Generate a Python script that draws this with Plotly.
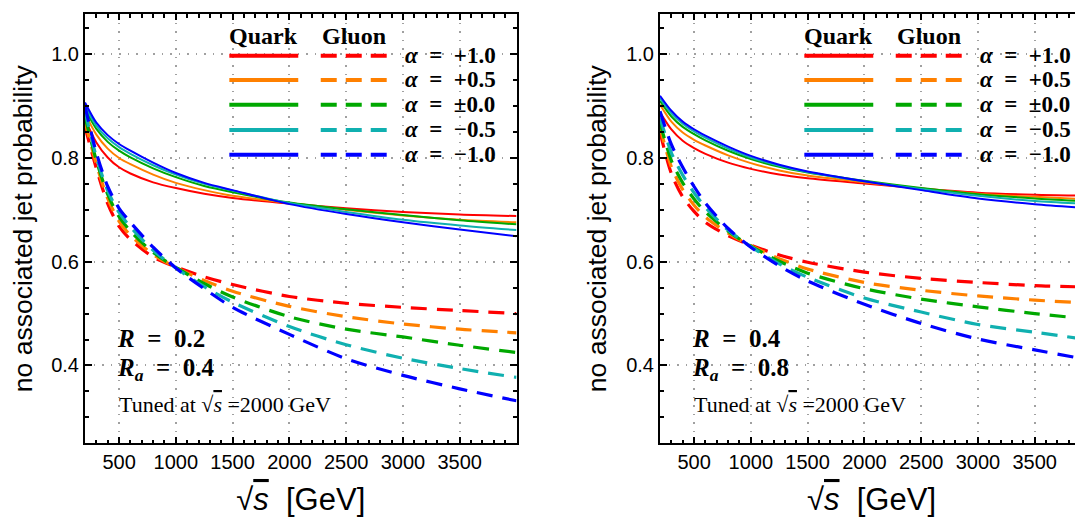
import plotly.graph_objects as go

# ---------------- data ----------------
energy = [200, 300, 400, 500, 600, 800, 1000, 1250, 1500, 2000, 2500, 3000, 3500, 4000]

alpha_labels = ["+1.0", "+0.5", "\u00b10.0", "\u22120.5", "\u22121.0"]
colors = ["#ff0000", "#ff8000", "#00a800", "#10b0b0", "#0000ff"]

# Panel 1: R = 0.2, Ra = 0.4  (quark = solid, gluon = dashed)
quark_r02_p10 = [0.875, 0.830, 0.801, 0.782, 0.770, 0.753, 0.742, 0.731, 0.723, 0.712, 0.703, 0.696, 0.691, 0.688]
quark_r02_p05 = [0.886, 0.845, 0.818, 0.800, 0.788, 0.768, 0.752, 0.738, 0.727, 0.713, 0.700, 0.689, 0.681, 0.676]
quark_r02_p00 = [0.894, 0.856, 0.831, 0.814, 0.801, 0.780, 0.763, 0.746, 0.734, 0.714, 0.701, 0.690, 0.680, 0.672]
quark_r02_m05 = [0.900, 0.862, 0.838, 0.821, 0.808, 0.786, 0.768, 0.750, 0.737, 0.713, 0.696, 0.681, 0.670, 0.661]
quark_r02_m10 = [0.907, 0.868, 0.844, 0.827, 0.814, 0.791, 0.771, 0.752, 0.738, 0.711, 0.692, 0.676, 0.662, 0.649]

gluon_r02_p10 = [0.860, 0.780, 0.712, 0.668, 0.643, 0.609, 0.590, 0.571, 0.556, 0.533, 0.520, 0.512, 0.506, 0.500]
gluon_r02_p05 = [0.870, 0.788, 0.722, 0.678, 0.651, 0.614, 0.589, 0.564, 0.543, 0.514, 0.494, 0.480, 0.470, 0.463]
gluon_r02_p00 = [0.880, 0.795, 0.730, 0.687, 0.659, 0.618, 0.589, 0.558, 0.532, 0.494, 0.470, 0.455, 0.439, 0.425]
gluon_r02_m05 = [0.890, 0.802, 0.737, 0.695, 0.667, 0.622, 0.588, 0.552, 0.522, 0.475, 0.440, 0.414, 0.394, 0.377]
gluon_r02_m10 = [0.900, 0.810, 0.745, 0.703, 0.676, 0.628, 0.588, 0.548, 0.512, 0.460, 0.413, 0.381, 0.355, 0.332]

# Panel 2: R = 0.4, Ra = 0.8
quark_r04_p10 = [0.888, 0.855, 0.833, 0.819, 0.808, 0.791, 0.779, 0.768, 0.761, 0.751, 0.741, 0.733, 0.729, 0.727]
quark_r04_p05 = [0.903, 0.870, 0.849, 0.835, 0.824, 0.805, 0.790, 0.776, 0.766, 0.753, 0.741, 0.731, 0.725, 0.720]
quark_r04_p00 = [0.910, 0.880, 0.860, 0.846, 0.834, 0.814, 0.798, 0.783, 0.772, 0.756, 0.742, 0.730, 0.722, 0.716]
quark_r04_m05 = [0.915, 0.886, 0.866, 0.851, 0.839, 0.818, 0.801, 0.785, 0.773, 0.755, 0.740, 0.727, 0.717, 0.711]
quark_r04_m10 = [0.920, 0.891, 0.870, 0.855, 0.843, 0.822, 0.804, 0.787, 0.774, 0.755, 0.738, 0.722, 0.711, 0.703]

gluon_r04_p10 = [0.850, 0.770, 0.725, 0.697, 0.676, 0.650, 0.632, 0.613, 0.599, 0.580, 0.568, 0.560, 0.554, 0.551]
gluon_r04_p05 = [0.860, 0.783, 0.739, 0.709, 0.686, 0.655, 0.631, 0.606, 0.586, 0.560, 0.545, 0.534, 0.526, 0.520]
gluon_r04_p00 = [0.868, 0.795, 0.752, 0.721, 0.696, 0.659, 0.630, 0.601, 0.578, 0.548, 0.528, 0.513, 0.500, 0.489]
gluon_r04_m05 = [0.878, 0.810, 0.767, 0.733, 0.705, 0.661, 0.629, 0.596, 0.570, 0.530, 0.503, 0.479, 0.464, 0.449]
gluon_r04_m10 = [0.890, 0.826, 0.782, 0.745, 0.713, 0.664, 0.628, 0.592, 0.563, 0.518, 0.481, 0.451, 0.430, 0.410]

x_tick_vals = [500, 1000, 1500, 2000, 2500, 3000, 3500]
y_tick_vals = [0.4, 0.6, 0.8, 1.0]
y_tick_text = ["0.4", "0.6", "0.8", "1.0"]

panels = [
    dict(quark=[quark_r02_p10, quark_r02_p05, quark_r02_p00, quark_r02_m05, quark_r02_m10],
         gluon=[gluon_r02_p10, gluon_r02_p05, gluon_r02_p00, gluon_r02_m05, gluon_r02_m10],
         R="0.2", Ra="0.4"),
    dict(quark=[quark_r04_p10, quark_r04_p05, quark_r04_p00, quark_r04_m05, quark_r04_m10],
         gluon=[gluon_r04_p10, gluon_r04_p05, gluon_r04_p00, gluon_r04_m05, gluon_r04_m10],
         R="0.4", Ra="0.8"),
]

# ---------------- figure ----------------
# page body has an 8px margin, so the figure is 8px smaller than the window
W, H = 1075, 509
OFF = 8
SANS = "Liberation Sans, Arial, sans-serif"
SERIF = "Liberation Serif, Times New Roman, serif"
NB = "\u00a0"
SQRT_S = "\u221a<span style='text-decoration:overline'><i>s</i></span>"

fig = go.Figure()

axis_suffix = ["", "2"]
for p, panel in enumerate(panels):
    xa = "x" + axis_suffix[p]
    ya = "y" + axis_suffix[p]
    for i in range(5):
        fig.add_trace(go.Scatter(
            x=energy, y=panel["quark"][i], mode="lines",
            line=dict(color=colors[i], width=2, shape="spline", smoothing=0.8),
            xaxis=xa, yaxis=ya, showlegend=False, hoverinfo="skip"))
    for i in range(5):
        fig.add_trace(go.Scatter(
            x=energy, y=panel["gluon"][i], mode="lines",
            line=dict(color=colors[i], width=3.2, dash="16px,10px", shape="spline", smoothing=0.8),
            xaxis=xa, yaxis=ya, showlegend=False, hoverinfo="skip"))

# legend block (drawn in data units, same for both panels)
LEG_SOLID = (1471, 2078)
LEG_DASH = (2276, 2857)
LEG_LABEL_X = 3000
LEG_ROWS = [0.997, 0.9505, 0.9025, 0.854, 0.806]
LEG_HEAD_Y = 1.036

shapes = []
annotations = []
for p, panel in enumerate(panels):
    xa = "x" + axis_suffix[p]
    ya = "y" + axis_suffix[p]
    for i in range(5):
        shapes.append(dict(type="line", xref=xa, yref=ya,
                           x0=LEG_SOLID[0], x1=LEG_SOLID[1], y0=LEG_ROWS[i], y1=LEG_ROWS[i],
                           line=dict(color=colors[i], width=4)))
        shapes.append(dict(type="line", xref=xa, yref=ya,
                           x0=LEG_DASH[0], x1=LEG_DASH[1], y0=LEG_ROWS[i], y1=LEG_ROWS[i],
                           line=dict(color=colors[i], width=4, dash="16px,9px")))
        annotations.append(dict(xref=xa, yref=ya, x=LEG_LABEL_X, y=LEG_ROWS[i],
                                xanchor="left", yanchor="middle", showarrow=False,
                                text="<b><i>\u03b1</i>" + NB * 2 + "=" + NB * 2 + alpha_labels[i] + "</b>",
                                font=dict(family=SERIF, size=23, color="black")))
    annotations.append(dict(xref=xa, yref=ya, x=sum(LEG_SOLID) / 2, y=LEG_HEAD_Y,
                            xanchor="center", yanchor="middle", showarrow=False,
                            text="<b>Quark</b>", font=dict(family=SERIF, size=24, color="black")))
    annotations.append(dict(xref=xa, yref=ya, x=sum(LEG_DASH) / 2, y=LEG_HEAD_Y,
                            xanchor="center", yanchor="middle", showarrow=False,
                            text="<b>Gluon</b>", font=dict(family=SERIF, size=24, color="black")))
    annotations.append(dict(xref=xa, yref=ya, x=465, y=0.452, xanchor="left", yanchor="middle",
                            showarrow=False,
                            text="<b><i>R</i>" + NB * 2 + "=" + NB * 2 + panel["R"] + "</b>",
                            font=dict(family=SERIF, size=25, color="black")))
    annotations.append(dict(xref=xa, yref=ya, x=465, y=0.393, xanchor="left", yanchor="middle",
                            showarrow=False,
                            text="<b><i>R<sub>a</sub></i>" + NB * 2 + "=" + NB * 2 + panel["Ra"] + "</b>",
                            font=dict(family=SERIF, size=25, color="black")))
    annotations.append(dict(xref=xa, yref=ya, x=480, y=0.324, xanchor="left", yanchor="middle",
                            showarrow=False, text="Tuned at " + SQRT_S + " =2000 GeV",
                            font=dict(family=SERIF, size=22, color="black")))

GRID_COLOR = "#a0a0a0"
GRID_DASH = "1.5px,7px"

def x_axis(domain, rng, anchor):
    return dict(domain=domain, range=rng, anchor=anchor, tickvals=x_tick_vals,
                ticks="inside", ticklen=6, tickwidth=1.5, tickcolor="black",
                minor=dict(ticks="inside", ticklen=3.5, tickwidth=1.5, dtick=100, tick0=0,
                           tickcolor="black", showgrid=False),
                showline=True, linewidth=2, linecolor="black", mirror="allticks",
                showgrid=True, gridcolor=GRID_COLOR, griddash=GRID_DASH, gridwidth=1.5,
                zeroline=False, tickfont=dict(family=SANS, size=20, color="black"),
                title=dict(text=SQRT_S + NB * 2 + "[GeV]",
                           font=dict(family=SANS, size=31, color="black"), standoff=20),
                automargin=False)

def y_axis(domain, anchor, mirror):
    return dict(domain=domain, range=[0.25, 1.0775], anchor=anchor,
                tickvals=y_tick_vals, ticktext=y_tick_text,
                ticks="inside", ticklen=7, tickwidth=1.5, tickcolor="black",
                minor=dict(ticks="inside", ticklen=4, tickwidth=1.5, dtick=0.05, tick0=0,
                           tickcolor="black", showgrid=False),
                showline=True, linewidth=2, linecolor="black", mirror=mirror,
                showgrid=True, gridcolor=GRID_COLOR, griddash=GRID_DASH, gridwidth=1.5,
                zeroline=False, tickfont=dict(family=SANS, size=20, color="black"),
                title=dict(text="no associated jet probability",
                           font=dict(family=SANS, size=26.5, color="black"), standoff=12),
                automargin=False)

# reference pixel geometry -> figure fractions
ydom = [(H - (443.3 - OFF)) / H, (H - (14 - OFF)) / H]
fig.update_layout(
    width=W, height=H,
    margin=dict(l=0, r=0, t=0, b=0),
    paper_bgcolor="white", plot_bgcolor="white",
    xaxis=x_axis([(85 - OFF) / W, (516.5 - OFF) / W], [200, 4000], "y"),
    yaxis=y_axis(ydom, "x", "allticks"),
    xaxis2=x_axis([(660 - OFF) / W, 1.0], [200, 3925], "y2"),
    yaxis2=y_axis(ydom, "x2", False),
    shapes=shapes,
    annotations=annotations,
    showlegend=False,
)

fig.write_html("out.html")
